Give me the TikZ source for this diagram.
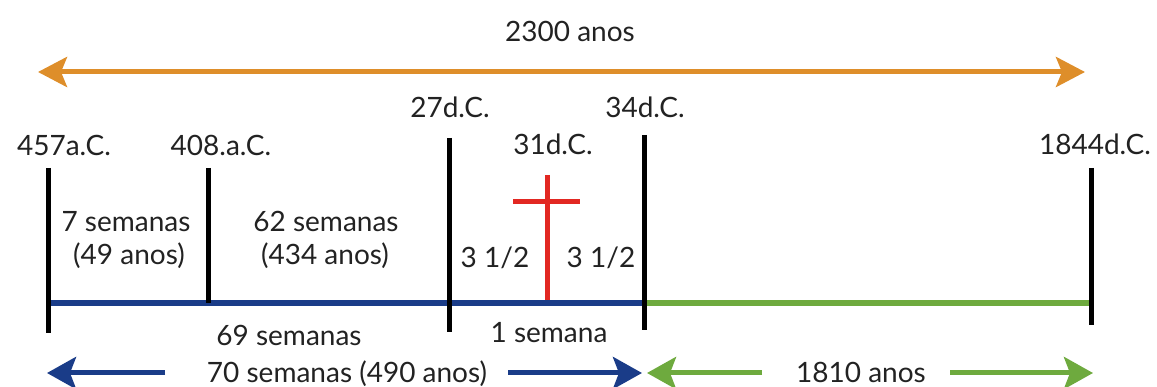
\documentclass[tikz,border=0pt]{standalone}
\usepackage{fontspec}
\setmainfont{Lato}
\usetikzlibrary{arrows.meta}

\definecolor{laranja}{RGB}{222,142,42}
\definecolor{azul}{RGB}{26,60,136}
\definecolor{verde}{RGB}{110,170,62}
\definecolor{vermelho}{RGB}{226,40,34}
\definecolor{cinza}{RGB}{34,34,34}

\tikzset{
  rotulo/.style={anchor=base, inner sep=0pt, text=cinza, font=\fontsize{28}{32}\selectfont},
  traco/.style={line width=5pt},
  ponta/.style={-{Stealth[length=29pt, width=32pt, inset=6pt]}},
}

\begin{document}
\begin{tikzpicture}[x=1pt, y=-1pt]
  \useasboundingbox (0,0) rectangle (1157,387);

  % 2300 anos
  \node[rotulo] (total) at (570,42) {2300 anos};
  \coordinate (oE) at (38,72);
  \coordinate (oD) at (1085,72);
  \draw[traco, laranja, {Stealth[length=29pt, width=30pt, inset=6pt]}-{Stealth[length=29pt, width=30pt, inset=6pt]}] (oE) -- (oD);

  % datas
  \node[rotulo] (d457) at (64,156) {457a.C.};
  \node[rotulo] (d408) at (221,156) {408.a.C.};
  \node[rotulo] (d27) at (450,118) {27d.C.};
  \node[rotulo] (d34) at (645,118) {34d.C.};
  \node[rotulo] (d31) at (553,155) {31d.C.};
  \node[rotulo] (d1844) at (1095,155) {1844d.C.};

  % periodos
  \node[rotulo] (sem7) at (126,232) {7 semanas};
  \node[rotulo] (anos49) at (129,265) {(49 anos)};
  \node[rotulo] (sem62) at (326,232) {62 semanas};
  \node[rotulo] (anos434) at (325,265) {(434 anos)};
  \node[rotulo] (meioA) at (495,268) {3 1/2};
  \node[rotulo] (meioB) at (601,268) {3 1/2};
  \node[rotulo] (sem69) at (289,345) {69 semanas};
  \node[rotulo] (sem1) at (549,343) {1 semana};

  % cruz
  \begin{scope}[vermelho, traco]
    \draw (547,175) -- (547,303);
    \draw (513,202) -- (580,202);
  \end{scope}

  % linha do tempo
  \coordinate (p457) at (48,303);
  \coordinate (p34) at (644,303);
  \coordinate (p1844) at (1091,303);
  \draw[azul, line width=6pt] (p457) -- (p34);
  \draw[verde, line width=6pt] (p34) -- (p1844);

  \begin{scope}[traco, black]
    \draw (48,168) -- (48,333);
    \draw (208,168) -- (208,303);
    \draw (449,138) -- (449,332);
    \draw (644,135) -- (644,330);
    \draw (1091,168) -- (1091,325);
  \end{scope}

  % 70 semanas / 1810 anos
  \node[rotulo] (sem70) at (347,382) {70 semanas (490 anos)};
  \node[rotulo] (anos1810) at (861,382) {1810 anos};
  \coordinate (aE1) at (165,373);
  \coordinate (aE2) at (47,373);
  \coordinate (aD1) at (508,373);
  \coordinate (aD2) at (642,373);
  \coordinate (vE1) at (762,373);
  \coordinate (vE2) at (647,373);
  \coordinate (vD1) at (950,373);
  \coordinate (vD2) at (1093,373);
  \draw[traco, azul, ponta] (aE1) -- (aE2);
  \draw[traco, azul, ponta] (aD1) -- (aD2);
  \draw[traco, verde, ponta] (vE1) -- (vE2);
  \draw[traco, verde, ponta] (vD1) -- (vD2);

\end{tikzpicture}
\end{document}
